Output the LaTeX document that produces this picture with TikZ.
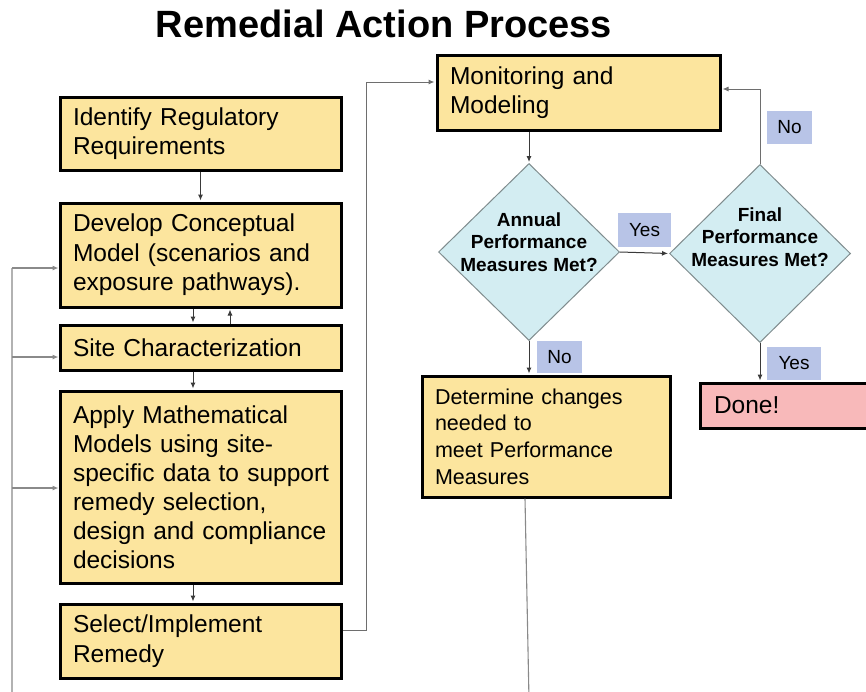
\documentclass[tikz,border=0pt]{standalone}
\usepackage{fontspec}
\setmainfont{Liberation Sans}
\usetikzlibrary{arrows.meta,shapes.geometric,calc}
\definecolor{boxfill}{HTML}{FCE59E}
\definecolor{diafill}{HTML}{D3EDF2}
\definecolor{diaedge}{HTML}{7F8C8E}
\definecolor{labfill}{HTML}{B8C4E7}
\definecolor{donefill}{HTML}{F8B9BA}
\definecolor{connc}{HTML}{3A3A3A}
\definecolor{loopc}{HTML}{8A8A8A}
\begin{document}
\begin{tikzpicture}[x=1pt,y=-1pt,
  box/.style={draw=black, line width=3pt, fill=boxfill, inner xsep=13pt, inner ysep=0pt,
    align=left, font=\fontsize{24.5}{29.5}\selectfont,
    execute at begin node={\hyphenpenalty=10000\exhyphenpenalty=10000}},
  dia/.style={shape=diamond, draw=diaedge, line width=1pt, fill=diafill, inner sep=0pt},
  diatext/.style={align=center, inner sep=0pt, font=\bfseries\fontsize{19}{22.5}\selectfont},
  lab/.style={fill=labfill, inner sep=0pt, font=\fontsize{19}{22}\selectfont},
  tip/.style={-{Latex[length=6pt,width=5pt]}},
  conn/.style={draw=connc, line width=1pt, tip, shorten >=1pt},
  loopl/.style={draw=loopc, line width=1.1pt}
]
\useasboundingbox (0,0) rectangle (866,691);
\clip (0,0) rectangle (866,691);
\fill[white] (0,0) rectangle (866,691);

\node[font=\bfseries\fontsize{38}{44}\selectfont, anchor=base] (title) at (384,37) {Remedial Action Process};

% left column
\node[box, text width=255pt, minimum height=73pt] (ident) at (200.5,133.5) {Identify Regulatory\\Requirements};
\node[box, text width=255pt, minimum height=104pt] (dev) at (200.5,255) {Develop Conceptual\\Model (scenarios and\\exposure pathways).};
\node[box, text width=255pt, minimum height=45pt] (site) at (200.5,347.5) {Site Characterization};
\node[box, text width=255pt, minimum height=192pt, font=\fontsize{24.5}{29}\selectfont] (apply) at (200.5,487) {\mbox{Apply Mathematical}\\\mbox{Models using site-}\\\mbox{specific data to support}\\\mbox{remedy selection,}\\\mbox{design and compliance}\\\mbox{decisions}};
\node[box, text width=255pt, minimum height=74pt] (sel) at (200.5,641) {Select/Implement\\Remedy};

% right part
\node[box, text width=257pt, minimum height=75pt] (mon) at (578.5,92.5) {Monitoring and\\Modeling};
\node[dia, minimum width=181pt, minimum height=177pt] (ann) at (529,252) {};
\node[diatext] (anntxt) at (529,242) {Annual\\Performance\\Measures Met?};
\node[dia, minimum width=181pt, minimum height=178pt] (fin) at (760,253.5) {};
\node[diatext] (fintxt) at (760,237) {Final\\Performance\\Measures Met?};
\node[box, text width=222pt, minimum height=121pt, font=\fontsize{21.5}{26.7}\selectfont] (det) at (546,436.5) {Determine changes\\needed to\\meet Performance\\Measures};
\node[box, fill=donefill, text width=153pt, minimum height=45pt, inner xsep=14pt] (done) at (790.5,405.5) {Done!};

% connectors, left column
\draw[conn] (ident) -- (dev);
\draw[conn] ($(dev.south)+(-7.5,0)$) -- ($(site.north)+(-7.5,0)$);
\draw[conn] ($(site.north)+(29.5,0)$) -- ($(dev.south)+(29.5,0)$);
\draw[conn] ($(site.south)+(-7.5,0)$) -- ($(apply.north)+(-7.5,0)$);
\draw[conn] ($(apply.south)+(-7.5,0)$) -- ($(sel.north)+(-7.5,0)$);

% select -> monitoring
\coordinate (selout) at ($(sel.east)+(0,-11)$);
\coordinate (monin) at ($(mon.west)+(0,-10.5)$);
\draw[conn, draw=loopc!80!black] (selout) -- ++(24,0) |- (monin);

% monitoring loop
\draw[conn] (mon.south -| ann.north) -- (ann.north);
\draw[conn] (ann.east) -- (fin.west);
\coordinate (monin2) at ($(mon.east)+(0,-3.5)$);
\draw[conn, draw=loopc!80!black] (fin.north) |- (monin2);
\draw[conn] (ann.south) -- (ann.south |- det.north);
\draw[conn] (fin.south) -- (fin.south |- done.north);

% return loop from determine to the left column (runs below the frame)
\coordinate (br) at (529,700);
\coordinate (bl) at (12,700);
\coordinate (devin) at ($(dev.west)+(0,13)$);
\coordinate (sitein) at ($(site.west)+(0,9.5)$);
\coordinate (applyin) at ($(apply.west)+(0,1)$);
\draw[loopl] ($(det.south)+(-21,0)$) -- (br) -- (bl) -- (bl |- devin);
\draw[loopl, tip] (bl |- devin) -- (devin);
\draw[loopl, tip] (bl |- sitein) -- (sitein);
\draw[loopl, tip] (bl |- applyin) -- (applyin);

% labels
\node[lab, minimum width=53pt, minimum height=34pt] (yes1) at (644.5,230) {Yes};
\node[lab, minimum width=45pt, minimum height=33pt] (no1) at (789.5,127.5) {No};
\node[lab, minimum width=45pt, minimum height=32pt] (no2) at (559.5,357) {No};
\node[lab, minimum width=54pt, minimum height=33pt] (yes2) at (794,363.5) {Yes};
\end{tikzpicture}
\end{document}
